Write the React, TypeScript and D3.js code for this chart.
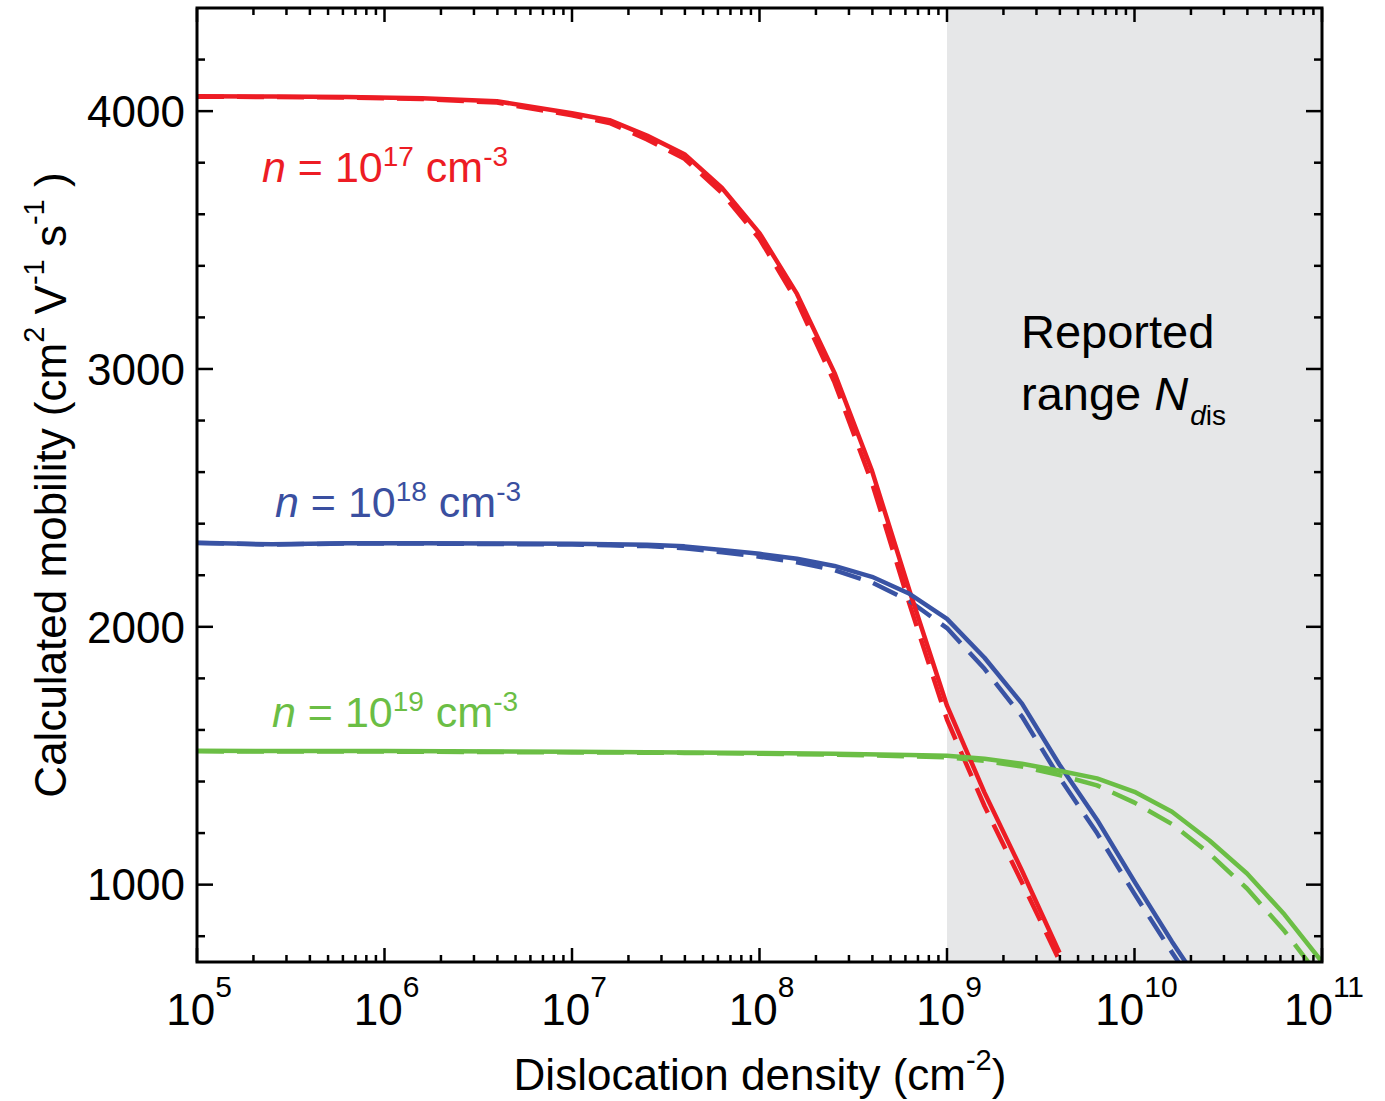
import React, { useEffect, useRef } from 'react';
import * as d3 from 'd3';

// dislocation density exponents (10^x cm^-2) and mobilities (cm^2/Vs)
const redExp = [5, 5.4, 5.8, 6.2, 6.6, 7, 7.2, 7.4, 7.6, 7.8, 8, 8.2, 8.4, 8.6, 8.8, 9, 9.2, 9.4, 9.6];
const redSolid = [4058, 4057, 4055, 4050, 4038, 3992, 3965, 3905, 3833, 3702, 3527, 3291, 2985, 2605, 2140, 1694, 1357, 1054, 736];
const redDashed = [4056, 4055, 4053, 4047, 4033, 3984, 3954, 3890, 3815, 3682, 3505, 3262, 2948, 2558, 2088, 1640, 1305, 1008, 705];

const blueExp = [5, 5.4, 5.8, 6.2, 6.6, 7, 7.2, 7.4, 7.6, 7.8, 8, 8.2, 8.4, 8.6, 8.8, 9, 9.2, 9.4, 9.6, 9.8, 10, 10.2, 10.4];
const blueSolid = [2326, 2320, 2324, 2324, 2323, 2322, 2320, 2318, 2312, 2298, 2283, 2264, 2236, 2194, 2128, 2031, 1880, 1702, 1465, 1252, 1012, 779, 560];
const blueDashed = [2325, 2319, 2323, 2323, 2321, 2319, 2316, 2313, 2305, 2289, 2272, 2250, 2220, 2172, 2100, 1995, 1837, 1652, 1415, 1200, 964, 737, 520];

const greenExp = [5, 6, 7, 7.6, 8, 8.4, 8.8, 9, 9.2, 9.4, 9.6, 9.8, 10, 10.2, 10.4, 10.6, 10.8, 11];
const greenSolid = [1519, 1518, 1515, 1513, 1511, 1508, 1503, 1500, 1488, 1469, 1442, 1412, 1360, 1283, 1171, 1043, 884, 700];
const greenDashed = [1517, 1516, 1513, 1511, 1508, 1504, 1498, 1494, 1480, 1458, 1425, 1385, 1318, 1235, 1120, 985, 820, 630];

const xDecades = [5, 6, 7, 8, 9, 10, 11];
const yMajorTicks = [1000, 2000, 3000, 4000];
const yMinorTicks = [800, 1200, 1400, 1600, 1800, 2200, 2400, 2600, 2800, 3200, 3400, 3600, 3800, 4200];
const reportedFrom = 1e9;

const seriesLabels = [
  { exp: '17', color: '#ED1C24', x: 262, y: 182 },
  { exp: '18', color: '#3A4FA0', x: 275, y: 517 },
  { exp: '19', color: '#6BBE45', x: 272, y: 727 }
];

const FONT = '"Liberation Sans", Arial, Helvetica, sans-serif';

const MobilityChart = () => {
  const svgRef = useRef<SVGSVGElement>(null);

  useEffect(() => {
    if (!svgRef.current) return;
    const width = 1385;
    const height = 1101;
    const margin = { top: 8, right: 63, bottom: 139, left: 197 };

    const svg = d3.select(svgRef.current).attr('width', width).attr('height', height);
    svg.selectAll('*').remove();

    const x = d3.scaleLog().domain([1e5, 1e11]).range([margin.left, width - margin.right]);
    const y = d3.scaleLinear().domain([700, 4400]).range([height - margin.bottom, margin.top]);
    const [x0, x1] = x.range();
    const [y0, y1] = y.range();

    svg.append('defs').append('clipPath').attr('id', 'plot-clip')
      .append('rect')
      .attr('x', x0).attr('y', y1).attr('width', x1 - x0).attr('height', y0 - y1);

    // shaded reported range
    svg.append('rect')
      .attr('x', x(reportedFrom)).attr('y', y1)
      .attr('width', x1 - x(reportedFrom)).attr('height', y0 - y1)
      .attr('fill', '#E6E7E8');

    // lines
    const line = d3.line<[number, number]>()
      .x(d => x(Math.pow(10, d[0])))
      .y(d => y(d[1]));

    const curves = [
      { exps: redExp, vals: redDashed, color: '#ED1C24', dash: true },
      { exps: blueExp, vals: blueDashed, color: '#3953A4', dash: true },
      { exps: greenExp, vals: greenDashed, color: '#6BBE45', dash: true },
      { exps: redExp, vals: redSolid, color: '#ED1C24', dash: false },
      { exps: blueExp, vals: blueSolid, color: '#3953A4', dash: false },
      { exps: greenExp, vals: greenSolid, color: '#6BBE45', dash: false }
    ];

    const lineG = svg.append('g').attr('clip-path', 'url(#plot-clip)');
    curves.forEach(c => {
      lineG.append('path')
        .datum(c.exps.map((e, i) => [e, c.vals[i]] as [number, number]))
        .attr('d', line)
        .attr('fill', 'none')
        .attr('stroke', c.color)
        .attr('stroke-width', 4.5)
        .attr('stroke-linejoin', 'round')
        .attr('stroke-dasharray', c.dash ? '27 13' : null);
    });

    // ticks
    const ticks = svg.append('g').attr('stroke', '#000').attr('stroke-width', 2.5);
    const xMinor: number[] = [];
    xDecades.slice(0, -1).forEach(e => {
      for (let k = 2; k <= 9; k++) xMinor.push(k * Math.pow(10, e));
    });
    xDecades.forEach(e => {
      const xx = x(Math.pow(10, e));
      ticks.append('line').attr('x1', xx).attr('x2', xx).attr('y1', y0).attr('y2', y0 - 14);
      ticks.append('line').attr('x1', xx).attr('x2', xx).attr('y1', y1).attr('y2', y1 + 14);
    });
    xMinor.forEach(v => {
      const xx = x(v);
      ticks.append('line').attr('x1', xx).attr('x2', xx).attr('y1', y0).attr('y2', y0 - 7);
      ticks.append('line').attr('x1', xx).attr('x2', xx).attr('y1', y1).attr('y2', y1 + 7);
    });
    yMajorTicks.forEach(v => {
      const yy = y(v);
      ticks.append('line').attr('x1', x0).attr('x2', x0 + 16).attr('y1', yy).attr('y2', yy);
      ticks.append('line').attr('x1', x1).attr('x2', x1 - 16).attr('y1', yy).attr('y2', yy);
    });
    yMinorTicks.forEach(v => {
      const yy = y(v);
      ticks.append('line').attr('x1', x0).attr('x2', x0 + 8).attr('y1', yy).attr('y2', yy);
      ticks.append('line').attr('x1', x1).attr('x2', x1 - 8).attr('y1', yy).attr('y2', yy);
    });

    // frame
    svg.append('rect')
      .attr('x', x0).attr('y', y1).attr('width', x1 - x0).attr('height', y0 - y1)
      .attr('fill', 'none').attr('stroke', '#000').attr('stroke-width', 3);

    // x tick labels
    xDecades.forEach(e => {
      const t = svg.append('text')
        .attr('x', x(Math.pow(10, e)) + 2)
        .attr('y', 1025)
        .attr('text-anchor', 'middle')
        .attr('font-family', FONT)
        .attr('font-size', 44)
        .attr('fill', '#000');
      t.append('tspan').text('10');
      t.append('tspan').attr('font-size', 30).attr('dy', -28).text(String(e));
    });

    // y tick labels
    yMajorTicks.forEach(v => {
      svg.append('text')
        .attr('x', 185)
        .attr('y', y(v))
        .attr('dy', '0.36em')
        .attr('text-anchor', 'end')
        .attr('font-family', FONT)
        .attr('font-size', 44)
        .text(v);
    });

    // axis titles
    const xt = svg.append('text')
      .attr('x', 760).attr('y', 1090)
      .attr('text-anchor', 'middle')
      .attr('font-family', FONT).attr('font-size', 44);
    xt.append('tspan').text('Dislocation density (cm');
    xt.append('tspan').attr('font-size', 29).attr('dy', -20).text('-2');
    xt.append('tspan').attr('dy', 20).text(')');

    const yt = svg.append('text')
      .attr('transform', 'translate(66,485) rotate(-90)')
      .attr('text-anchor', 'middle')
      .attr('font-family', FONT).attr('font-size', 44);
    yt.append('tspan').text('Calculated mobility (cm');
    yt.append('tspan').attr('font-size', 29).attr('dy', -22).text('2');
    yt.append('tspan').attr('dy', 22).text(' V');
    yt.append('tspan').attr('font-size', 29).attr('dy', -22).text('-1');
    yt.append('tspan').attr('dy', 22).text(' s');
    yt.append('tspan').attr('font-size', 29).attr('dy', -22).text('-1');
    yt.append('tspan').attr('dy', 22).text(' )');

    // curve labels
    seriesLabels.forEach(s => {
      const t = svg.append('text')
        .attr('x', s.x).attr('y', s.y)
        .attr('font-family', FONT).attr('font-size', 43)
        .attr('fill', s.color);
      t.append('tspan').attr('font-style', 'italic').text('n');
      t.append('tspan').text(' = 10');
      t.append('tspan').attr('font-size', 28).attr('dy', -16).text(s.exp);
      t.append('tspan').attr('dy', 16).text(' cm');
      t.append('tspan').attr('font-size', 28).attr('dy', -16).text('-3');
    });

    // reported range annotation
    svg.append('text')
      .attr('x', 1021).attr('y', 348)
      .attr('font-family', FONT).attr('font-size', 47)
      .text('Reported');
    const rr = svg.append('text')
      .attr('x', 1021).attr('y', 410)
      .attr('font-family', FONT).attr('font-size', 47);
    rr.append('tspan').text('range ');
    rr.append('tspan').attr('font-style', 'italic').text('N');
    rr.append('tspan').attr('font-size', 28).attr('dx', 2).attr('dy', 15).attr('font-style', 'italic').text('d');
    rr.append('tspan').attr('font-size', 28).text('is');
  }, []);

  return (
    <div style={{ position: 'absolute', left: 0, top: 0, background: '#fff' }}>
      <svg ref={svgRef}></svg>
    </div>
  );
};

export default function App() {
  return <MobilityChart />;
}
